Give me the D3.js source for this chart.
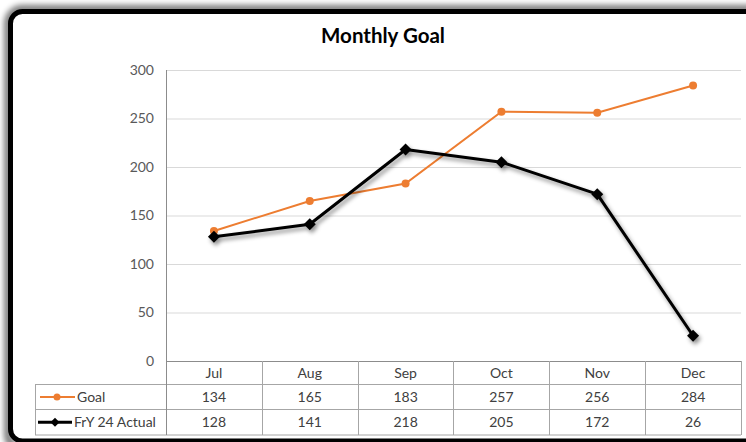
<!DOCTYPE html>
<html>
<head>
<meta charset="utf-8">
<script src="https://cdn.jsdelivr.net/npm/d3@7/dist/d3.min.js"></script>
<style>
  html, body { margin: 0; padding: 0; background: #fff; }
  svg { display: block; }
  text { font-family: Lato, "Liberation Sans", sans-serif; }
</style>
</head>
<body>
<svg id="chart" width="746" height="442"></svg>
<script>
const categories = ["Jul", "Aug", "Sep", "Oct", "Nov", "Dec"];
const goalValues = [134, 165, 183, 257, 256, 284];
const actualValues = [128, 141, 218, 205, 172, 26];
const yTicks = [0, 50, 100, 150, 200, 250, 300];
const seriesNames = ["Goal", "FrY 24 Actual"];
const titleText = "Monthly Goal";

const W = 746, H = 442;
const svg = d3.select("#chart");
const defs = svg.append("defs");

const frameShadow = defs.append("filter").attr("id", "frameShadow")
  .attr("x", "-10%").attr("y", "-10%").attr("width", "120%").attr("height", "120%");
frameShadow.append("feGaussianBlur").attr("in", "SourceAlpha").attr("stdDeviation", 3);

const lineShadow = defs.append("filter").attr("id", "lineShadow")
  .attr("x", "-10%").attr("y", "-10%").attr("width", "120%").attr("height", "130%");
lineShadow.append("feDropShadow").attr("dx", 2).attr("dy", 3).attr("stdDeviation", 2)
  .attr("flood-color", "#000").attr("flood-opacity", 0.45);

// Frame with outer shadow
svg.append("rect").attr("x", 8).attr("y", 9).attr("width", 780).attr("height", 440)
  .attr("rx", 14).attr("fill", "none").attr("stroke", "#000").attr("stroke-width", 7)
  .attr("filter", "url(#frameShadow)").attr("opacity", 0.6);
svg.append("rect").attr("x", 10.5).attr("y", 11.5).attr("width", 780).attr("height", 429.5)
  .attr("rx", 12).attr("fill", "#fff").attr("stroke", "#000").attr("stroke-width", 5);

// Title
svg.append("text").attr("x", 383).attr("y", 43).attr("text-anchor", "middle")
  .attr("font-size", 20.5).attr("font-weight", 700).attr("fill", "#000").text(titleText);

// Scales
const plotLeft = 166, plotRight = 741, plotTop = 70, plotBottom = 361;
const x = d3.scaleBand().domain(categories).range([plotLeft, plotRight]).paddingInner(0).paddingOuter(0);
const y = d3.scaleLinear().domain([0, 300]).range([plotBottom, plotTop]);
const cx = c => x(c) + x.bandwidth() / 2;

// Gridlines
svg.append("g").selectAll("line").data(yTicks.filter(t => t > 0)).join("line")
  .attr("x1", plotLeft).attr("x2", plotRight)
  .attr("y1", d => y(d) + 0.5).attr("y2", d => y(d) + 0.5)
  .attr("stroke", "#d9d9d9").attr("stroke-width", 1);

// Y axis via d3
const yAxis = d3.axisLeft(y).tickValues(yTicks).tickSize(0).tickPadding(12);
const gy = svg.append("g").attr("transform", `translate(${plotLeft},0)`).call(yAxis);
gy.select(".domain").remove();
gy.selectAll("text").attr("font-size", 14).attr("fill", "#595959")
  .attr("font-family", "Lato, 'Liberation Sans', sans-serif");

// Data table
const rowH = [361, 384.5, 409.5, 435];
const tableLeft = 35;
const tableColor = "#a6a6a6";
const tg = svg.append("g");
tg.append("line").attr("x1", plotLeft).attr("x2", plotRight).attr("y1", rowH[0] + 0.5).attr("y2", rowH[0] + 0.5)
  .attr("stroke", "#8c8c8c");
[1, 2, 3].forEach(i => {
  tg.append("line").attr("x1", tableLeft).attr("x2", plotRight).attr("y1", rowH[i]).attr("y2", rowH[i])
    .attr("stroke", tableColor);
});
tg.append("line").attr("x1", tableLeft + 0.5).attr("x2", tableLeft + 0.5).attr("y1", rowH[1]).attr("y2", rowH[3])
  .attr("stroke", tableColor);
tg.selectAll("line.v").data(categories).join("line").attr("class", "v")
  .attr("x1", d => Math.round(x(d) + x.bandwidth()) + 0.5).attr("x2", d => Math.round(x(d) + x.bandwidth()) + 0.5)
  .attr("y1", rowH[0]).attr("y2", rowH[3]).attr("stroke", tableColor);
svg.append("line").attr("x1", plotLeft + 0.5).attr("x2", plotLeft + 0.5).attr("y1", plotTop).attr("y2", rowH[3])
  .attr("stroke", "#8c8c8c");

const fs = 14, txtColor = "#404040";
tg.selectAll("text.cat").data(categories).join("text").attr("class", "cat")
  .attr("x", d => cx(d)).attr("y", (rowH[0] + rowH[1]) / 2 + 5).attr("text-anchor", "middle")
  .attr("font-size", fs).attr("fill", txtColor).text(d => d);
tg.selectAll("text.goal").data(goalValues).join("text").attr("class", "goal")
  .attr("x", (d, i) => cx(categories[i])).attr("y", (rowH[1] + rowH[2]) / 2 + 5).attr("text-anchor", "middle")
  .attr("font-size", fs).attr("fill", txtColor).text(d => d);
tg.selectAll("text.act").data(actualValues).join("text").attr("class", "act")
  .attr("x", (d, i) => cx(categories[i])).attr("y", (rowH[2] + rowH[3]) / 2 + 5).attr("text-anchor", "middle")
  .attr("font-size", fs).attr("fill", txtColor).text(d => d);

// Legend keys in table
const orange = "#ED7D31";
const gY = (rowH[1] + rowH[2]) / 2, aY = (rowH[2] + rowH[3]) / 2;
tg.append("line").attr("x1", 40).attr("x2", 75).attr("y1", gY).attr("y2", gY).attr("stroke", orange).attr("stroke-width", 2);
tg.append("circle").attr("cx", 57).attr("cy", gY).attr("r", 3.5).attr("fill", orange);
tg.append("text").attr("x", 77).attr("y", gY + 5).attr("font-size", fs).attr("fill", txtColor).text(seriesNames[0]);
tg.append("line").attr("x1", 38).attr("x2", 72).attr("y1", aY).attr("y2", aY).attr("stroke", "#000").attr("stroke-width", 3);
tg.append("path").attr("d", d3.symbol(d3.symbolSquare, 40)).attr("transform", `translate(55,${aY}) rotate(45)`).attr("fill", "#000");
tg.append("text").attr("x", 74).attr("y", aY + 5).attr("font-size", fs).attr("fill", txtColor).text(seriesNames[1]);

// Lines
const line = d3.line().x((d, i) => cx(categories[i])).y(d => y(d));

const goalG = svg.append("g");
goalG.append("path").datum(goalValues).attr("d", line).attr("fill", "none")
  .attr("stroke", orange).attr("stroke-width", 2);
goalG.selectAll("circle").data(goalValues).join("circle")
  .attr("cx", (d, i) => cx(categories[i])).attr("cy", d => y(d)).attr("r", 4).attr("fill", orange);

const actG = svg.append("g").attr("filter", "url(#lineShadow)");
actG.append("path").datum(actualValues).attr("d", line).attr("fill", "none")
  .attr("stroke", "#000").attr("stroke-width", 3).attr("stroke-linejoin", "round");
actG.selectAll("path.m").data(actualValues).join("path").attr("class", "m")
  .attr("d", d3.symbol(d3.symbolSquare, 72))
  .attr("transform", (d, i) => `translate(${cx(categories[i])},${y(d)}) rotate(45)`).attr("fill", "#000");
</script>
</body>
</html>
